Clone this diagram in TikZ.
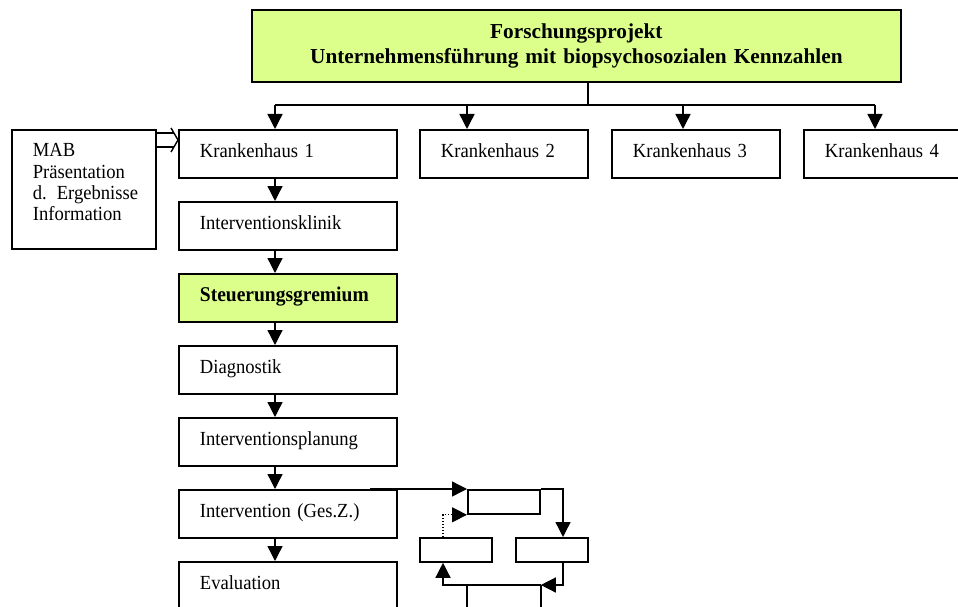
\documentclass[tikz,border=0pt]{standalone}
\usepackage{fontspec}
\setmainfont{Liberation Serif}
\newfontfamily\bodyfont{Liberation Serif}[FakeStretch=0.93]
\usetikzlibrary{arrows.meta,calc}
\definecolor{projgreen}{RGB}{220,255,140}
\newcommand\boxtextfont{\bodyfont\fontsize{20}{21.3}\selectfont\spaceskip=4pt plus 1pt minus 1pt\relax}
\newcommand\headtextfont{\bfseries\fontsize{21.3}{25}\selectfont\spaceskip=4.6pt plus 1pt minus 1pt\relax}

\begin{document}
\begin{tikzpicture}[x=1pt,y=-1pt,
  box/.style={draw, line width=1.8pt, anchor=north west, inner xsep=21pt, inner ysep=0pt,
    align=left, text height=28pt, text depth=20pt, font=\boxtextfont},
  colbox/.style={box, text width=176pt},
  hbox/.style={box, text width=126pt},
  small/.style={draw, line width=1.8pt, anchor=north west, inner sep=0pt,
    minimum width=72pt, minimum height=24pt},
  conn/.style={line width=1.4pt},
  arr/.style={conn, -{Triangle[length=15pt,width=15pt]}},
]
\useasboundingbox (0,0) rectangle (958,607);
\clip (0,0) rectangle (958,607);

% project header
\node[draw, line width=1.8pt, fill=projgreen, anchor=north west, inner sep=0pt,
  text width=649pt, align=center, text height=29pt, text depth=43pt,
  font=\headtextfont] (title) at (251,9)
  {Forschungsprojekt\\Unternehmensführung mit biopsychosozialen Kennzahlen};

% hospitals
\node[colbox] (k1) at (178,129) {Krankenhaus 1};
\node[hbox] (k2) at (419,129) {Krankenhaus 2};
\node[hbox] (k3) at (611,129) {Krankenhaus 3};
\node[box, text width=130pt] (k4) at (803,129) {Krankenhaus 4};

% side box
\node[box, text width=102pt, text height=27pt, text depth=92pt] (mab) at (11,129)
  {\mbox{MAB}\\\mbox{Präsentation}\\\mbox{d. Ergebnisse}\\\mbox{Information}};

% main column
\node[colbox] (ik) at (178,201) {Interventionsklinik};
\node[colbox, fill=projgreen] (sg) at (178,273)
  {\bfseries\fontsize{21}{22}\selectfont Steuerungsgremium};
\node[colbox] (dg) at (178,345) {Diagnostik};
\node[colbox] (ip) at (178,417) {Interventionsplanung};
\node[colbox] (iv) at (178,489) {Intervention (Ges.Z.)};
\node[colbox] (ev) at (178,561) {Evaluation};

% cycle boxes
\node[small] (sa) at (467,489) {};
\node[small] (sb) at (419,537) {};
\node[small] (sc) at (515,537) {};

% distribution bus
\coordinate (trunk) at (588,105);
\coordinate (b1) at (275,105);
\coordinate (b2) at (467,105);
\coordinate (b3) at (683,105);
\coordinate (b4) at (875,105);
\draw[conn] (title.south -| trunk) -- (trunk);
\draw[conn] (b1) -- (b4);
\foreach \b/\k in {b1/k1,b2/k2,b3/k3,b4/k4}
  \draw[arr] (\b) -- (\b |- \k.north);

% column flow
\coordinate (col) at (275,0);
\foreach \a/\b in {k1/ik,ik/sg,sg/dg,dg/ip,ip/iv,iv/ev}
  \draw[arr] (\a.south -| col) -- (\b.north -| col);

% double arrow from side box
\coordinate (dt) at (0,133);
\coordinate (db) at (0,147);
\coordinate (dtip) at (0,140);
\draw[conn] (mab.east |- dt) -- ($(k1.west |- dt)+(-4,0)$);
\draw[conn] (mab.east |- db) -- ($(k1.west |- db)+(-4,0)$);
\draw[conn, line join=miter] ($(k1.west |- dtip)+(-7,-12)$) -- (k1.west |- dtip)
  -- ($(k1.west |- dtip)+(-7,12)$);

% cycle connectors
\coordinate (feed) at (370,489);
\coordinate (rx) at (563,0);
\coordinate (lx) at (443,0);
\coordinate (ly) at (0,585);
\coordinate (bottom) at (0,620);
\draw[arr] (feed) -- (sa.north west);
\draw[arr] (sa.north east) -| (sc.north -| rx);
\draw[arr] (sc.south -| rx) |- (sa.south east |- ly);
\draw[arr] (sa.south east |- ly) -| (sb.south -| lx);
\draw[conn] (sa.south west |- ly) -- (sa.south west |- bottom);
\draw[conn] (sa.south east |- ly) -- (sa.south east |- bottom);
\draw[arr, line width=1.2pt, dash pattern=on 1.4pt off 1.6pt] (sb.north -| lx) |- (sa.south west);
\end{tikzpicture}
\end{document}
